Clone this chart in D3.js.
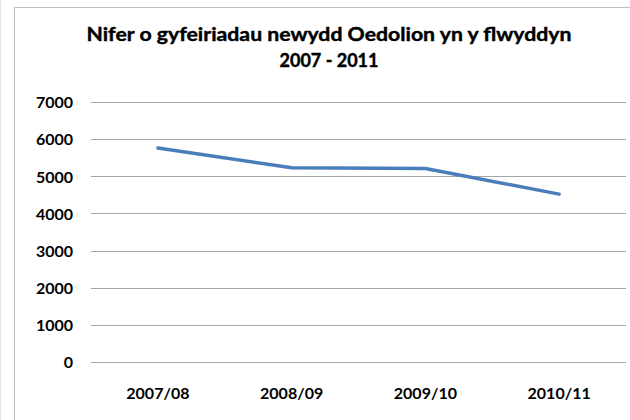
<!DOCTYPE html>
<html>
<head>
<meta charset="utf-8">
<script src="https://cdn.jsdelivr.net/npm/d3@7"></script>
<style>
  body { margin: 0; background: #fff; }
  text { font-family: Lato, "Open Sans", sans-serif; font-weight: bold; fill: #000; }
</style>
</head>
<body>
<div id="plot"></div>
<script>
var categories = ['2007/08', '2008/09', '2009/10', '2010/11']
var values = [5760, 5230, 5210, 4520]
var yTicks = [0, 1000, 2000, 3000, 4000, 5000, 6000, 7000]
var titleLines = ['Nifer o gyfeiriadau newydd Oedolion yn y flwyddyn', '2007 - 2011']

var W = 630, H = 420
var margin = { top: 102, right: 4, bottom: 58, left: 91 }
  , width = W - margin.left - margin.right
  , height = H - margin.top - margin.bottom

var root = d3.select("#plot")
  .append("svg")
  .attr("width", W)
  .attr("height", H)

// outer chart frame
root.append("line")
  .attr("x1", 0.5).attr("x2", 0.5).attr("y1", 0).attr("y2", H)
  .attr("stroke", "#e4e4e4")
root.append("rect")
  .attr("x", 14.5).attr("y", 7.5)
  .attr("width", W).attr("height", H)
  .attr("fill", "none")
  .attr("stroke", "#bdbdbd")

root.append("g")
  .selectAll("text")
  .data(titleLines)
  .enter()
  .append("text")
  .attr("x", 329)
  .attr("y", (d, i) => 41 + i * 26)
  .attr("text-anchor", "middle")
  .attr("font-size", 18)
  .attr("stroke", "#000")
  .attr("stroke-width", 0.4)
  .attr("textLength", (d, i) => i == 0 ? 485 : null)
  .attr("lengthAdjust", "spacingAndGlyphs")
  .text(d => d)

var svg = root.append("g")
  .attr("transform", "translate(" + margin.left + "," + margin.top + ")")

var xScale = d3.scaleBand()
  .domain(categories)
  .range([0, width])

var yScale = d3.scaleLinear()
  .domain([0, 7000])
  .range([height, 0])

// gridlines
svg.append("g")
  .selectAll("line")
  .data(yTicks)
  .enter()
  .append("line")
  .attr("x1", 0)
  .attr("x2", width)
  .attr("y1", d => Math.round(yScale(d)) + 0.5)
  .attr("y2", d => Math.round(yScale(d)) + 0.5)
  .attr("stroke", "#a6a6a6")
  .attr("stroke-width", 1)

var yAxis = svg.append("g")
  .call(d3.axisLeft(yScale).tickValues(yTicks).tickSize(0).tickPadding(18).tickFormat(d3.format("d")))
yAxis.select(".domain").remove()
yAxis.selectAll("text")
  .attr("font-size", 16)
  .attr("font-family", "Lato, sans-serif")
  .attr("fill", "#000")
  .attr("dy", "0.36em")

var xAxis = svg.append("g")
  .attr("transform", "translate(0, " + height + ")")
  .call(d3.axisBottom(xScale).tickSize(0).tickPadding(26))
xAxis.select(".domain").remove()
xAxis.selectAll("text")
  .attr("font-size", 16)
  .attr("font-family", "Lato, sans-serif")
  .attr("fill", "#000")

var line = d3.line()
  .x((d, i) => xScale(categories[i]) + xScale.bandwidth() / 2)
  .y(d => yScale(d))

svg.append("path")
  .datum(values)
  .attr("fill", "none")
  .attr("stroke", "#4a7ebb")
  .attr("stroke-width", 3.5)
  .attr("stroke-linecap", "round")
  .attr("stroke-linejoin", "round")
  .attr("d", line)
</script>
</body>
</html>
